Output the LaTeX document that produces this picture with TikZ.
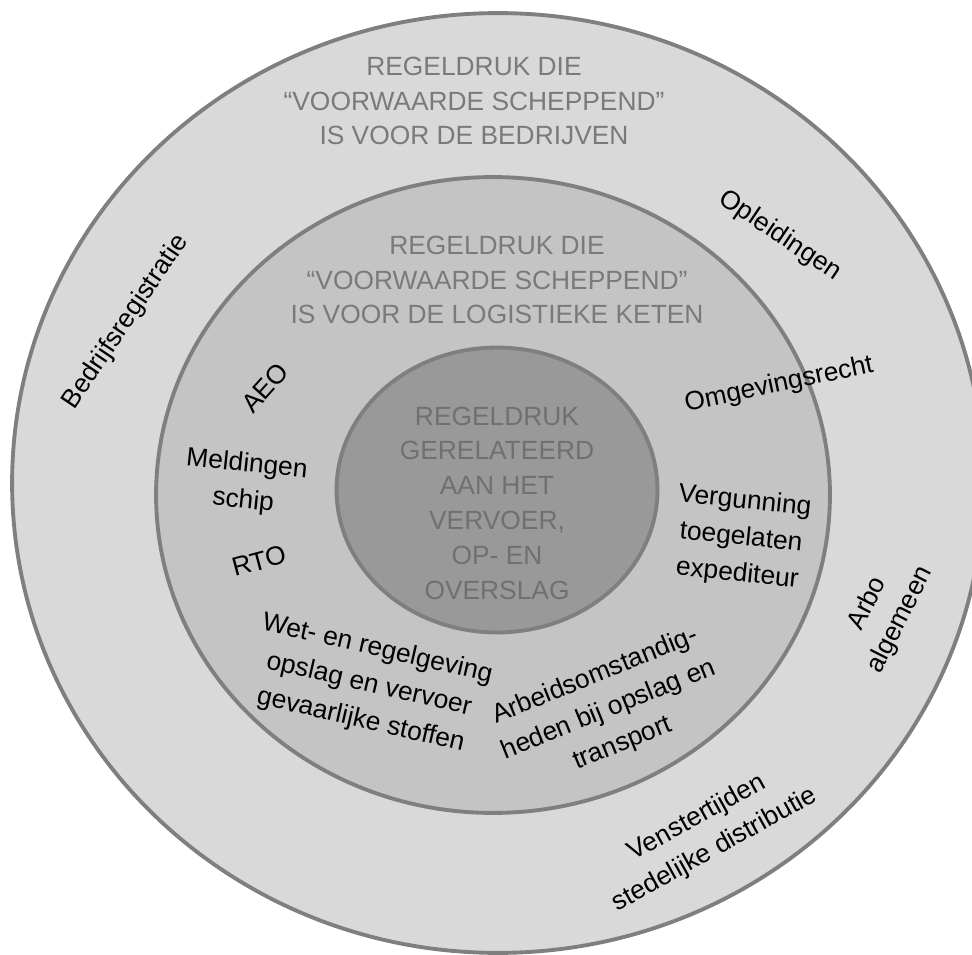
\documentclass[tikz,border=0pt]{standalone}
\usepackage{fontspec}
\setmainfont{Liberation Sans}
\usetikzlibrary{shapes.geometric}
\definecolor{ringline}{RGB}{127,127,127}
\definecolor{outerfill}{RGB}{217,217,217}
\definecolor{middlefill}{RGB}{196,196,196}
\definecolor{innerfill}{RGB}{153,153,153}
\definecolor{titlegray}{RGB}{122,122,122}
\definecolor{innertext}{RGB}{112,112,112}
\tikzstyle{ring} = [ellipse, draw=ringline, line width=2.2pt, inner sep=0pt]
\tikzstyle{title} = [text=titlegray, align=center, font=\fontsize{15}{19.8}\selectfont]
\tikzstyle{topic} = [align=center, font=\fontsize{15}{20.8}\selectfont]

\begin{document}
\begin{tikzpicture}[x=0.02cm, y=-0.02cm]
  \clip (0,0) rectangle (972,955);

  % We start by placing the rings
  \node (outer) [ring, fill=outerfill, minimum width=19.44cm, minimum height=18.8cm] at (498,483) {};
  \node (middle) [ring, fill=middlefill, minimum width=13.48cm, minimum height=12.72cm] at (493,495) {};
  \node (inner) [ring, fill=innerfill, minimum width=6.42cm, minimum height=5.7cm] at (497,490) {};

  % Titles of the rings
  \node (outer_title) [title] at (474,101) {REGELDRUK DIE\\“VOORWAARDE SCHEPPEND”\\IS VOOR DE BEDRIJVEN};
  \node (middle_title) [title] at (497,280) {REGELDRUK DIE\\“VOORWAARDE SCHEPPEND”\\IS VOOR DE LOGISTIEKE KETEN};
  \node (inner_title) [title, text=innertext] at (497,503) {REGELDRUK\\GERELATEERD\\AAN HET\\VERVOER,\\OP- EN\\OVERSLAG};

  % Topics in the outer ring
  \node (bedrijf) [topic, rotate=56] at (126,322) {Bedrijfsregistratie};
  \node (opleid) [topic, rotate=-34] at (780,236) {Opleidingen};
  \node (arbo) [topic, rotate=63] at (884,612) {Arbo\\algemeen};
  \node (venster) [topic, rotate=29] at (706,834) {Venstertijden\\stedelijke distributie};

  % Topics in the middle ring
  \node (aeo) [topic, rotate=48] at (265,388) {AEO};
  \node (melding) [topic, rotate=-6] at (245,483) {Meldingen\\schip};
  \node (rto) [topic, rotate=15] at (259,561) {RTO};
  \node (omgeving) [topic, rotate=12] at (779,385) {Omgevingsrecht};
  \node (vergun) [topic, rotate=-6] at (741,538) {Vergunning\\toegelaten\\expediteur};
  \node (gevaar) [topic, rotate=-13] at (369,685) {Wet- en regelgeving\\opslag en vervoer\\gevaarlijke stoffen};
  \node (arbeid) [topic, rotate=22] at (609,710) {Arbeidsomstandig-\\heden bij opslag en\\transport};

\end{tikzpicture}
\end{document}
